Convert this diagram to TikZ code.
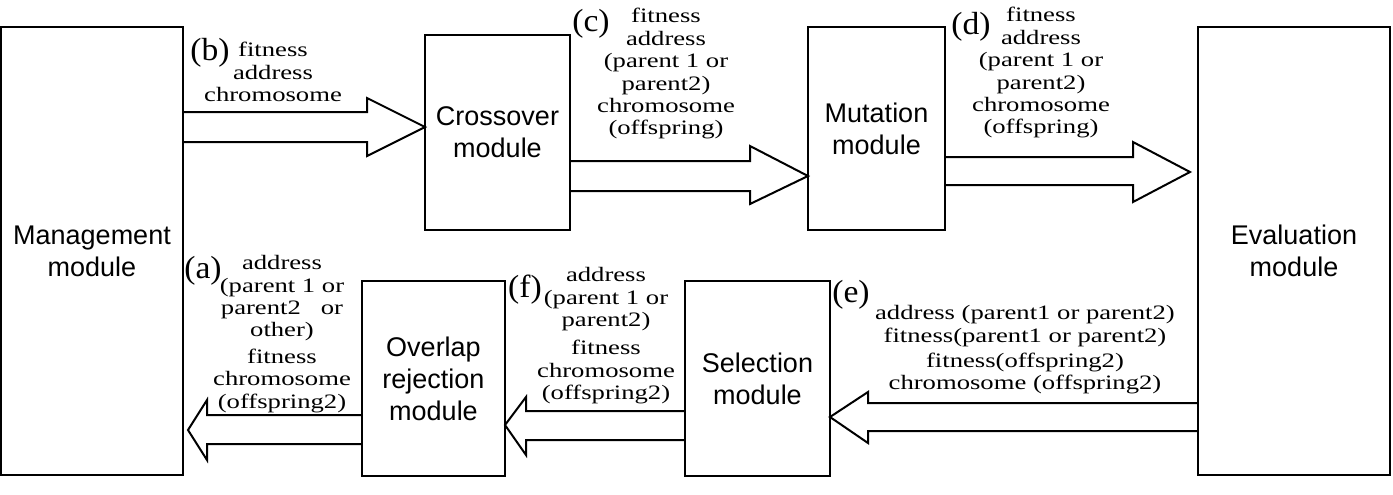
\documentclass[tikz,border=0pt]{standalone}
\usepackage{fontspec}
\setmainfont{Liberation Serif}[FakeStretch=1.3]
\setsansfont{Liberation Sans}
\newfontfamily\lblfont{Liberation Serif}[FakeStretch=1.05]
\begin{document}
\begin{tikzpicture}[x=0.5pt,y=-0.5pt,
  box/.style={draw,line width=1pt,outer sep=0pt,inner sep=0pt,align=center,
    font=\sffamily\fontsize{13.5}{16}\selectfont},
  fat/.style={draw,line width=1pt,line join=miter},
  info/.style={inner sep=0pt,align=center,anchor=north,
    font=\rmfamily\fontsize{10.25}{11.2}\selectfont},
  tag/.style={inner sep=0pt,font=\lblfont\fontsize{16}{18}\selectfont}]
\useasboundingbox (0,0) rectangle (1393,494);
% boxes
\node[box,minimum width=91pt,minimum height=224pt] (mgmt) at (92,251) {Management\\module};
\node[box,minimum width=72.5pt,minimum height=97.5pt] (cross) at (497.5,132.5) {Crossover\\module};
\node[box,minimum width=68.5pt,minimum height=101.5pt] (mut) at (876.5,128.5) {Mutation\\module};
\node[box,minimum width=96pt,minimum height=224pt] (evalm) at (1294,251) {Evaluation\\module};
\node[box,minimum width=71.5pt,minimum height=97.5pt] (ovl) at (433.5,378.5) {Overlap\\rejection\\module};
\node[box,minimum width=72.5pt,minimum height=97.5pt] (sel) at (757.5,378.5) {Selection\\module};
% arrows
\draw[fat] (mgmt.east |- 0,112) -- (367,112) -- (367,98) -- (cross.west |- 0,127)
  -- (367,156) -- (367,142) -- (mgmt.east |- 0,142);
\draw[fat] (cross.east |- 0,161) -- (750,161) -- (750,146) -- (mut.west |- 0,176)
  -- (750,204) -- (750,191) -- (cross.east |- 0,191);
\draw[fat] (mut.east |- 0,157) -- (1133,157) -- (1133,142) -- ([xshift=-4pt]evalm.west |- 0,172)
  -- (1133,202) -- (1133,185) -- (mut.east |- 0,185);
\draw[fat] (evalm.west |- 0,403) -- (868,403) -- (868,392) -- (sel.east |- 0,417)
  -- (868,443) -- (868,431) -- (evalm.west |- 0,431);
\draw[fat] (sel.west |- 0,411) -- (526,411) -- (526,397) -- (ovl.east |- 0,425)
  -- (526,455) -- (526,440) -- (sel.west |- 0,440);
\draw[fat] (ovl.west |- 0,415) -- (207,415) -- (207,400) -- ([xshift=2.5pt]mgmt.east |- 0,430)
  -- (207,460) -- (207,444) -- (ovl.west |- 0,444);
% labels
\node[tag] (tb) at (210,53) {(b)};
\node[info] (ib) at (273,42) {fitness\\address\\chromosome};
\node[tag] (tc) at (591,24) {(c)};
\node[info] (ic) at (666,8) {fitness\\address\\(parent 1 or\\parent2)\\chromosome\\(offspring)};
\node[tag] (td) at (971,27) {(d)};
\node[info] (id) at (1041,7) {fitness\\address\\(parent 1 or\\parent2)\\chromosome\\(offspring)};
\node[tag] (ta) at (203,271) {(a)};
\node[info] (ia) at (282,255) {address\\(parent 1 or\\parent2~~~or\\other)\\[2pt]fitness\\chromosome\\(offspring2)};
\node[tag] (tf) at (525,290) {(f)};
\node[info] (if) at (606,267) {address\\(parent 1 or\\parent2)\\[3pt]fitness\\chromosome\\(offspring2)};
\node[tag] (te) at (851,295) {(e)};
\node[info] (ie) at (1025,305) {address (parent1 or parent2)\\fitness(parent1 or parent2)\\[1.5pt]fitness(offspring2)\\chromosome (offspring2)};
\end{tikzpicture}
\end{document}
